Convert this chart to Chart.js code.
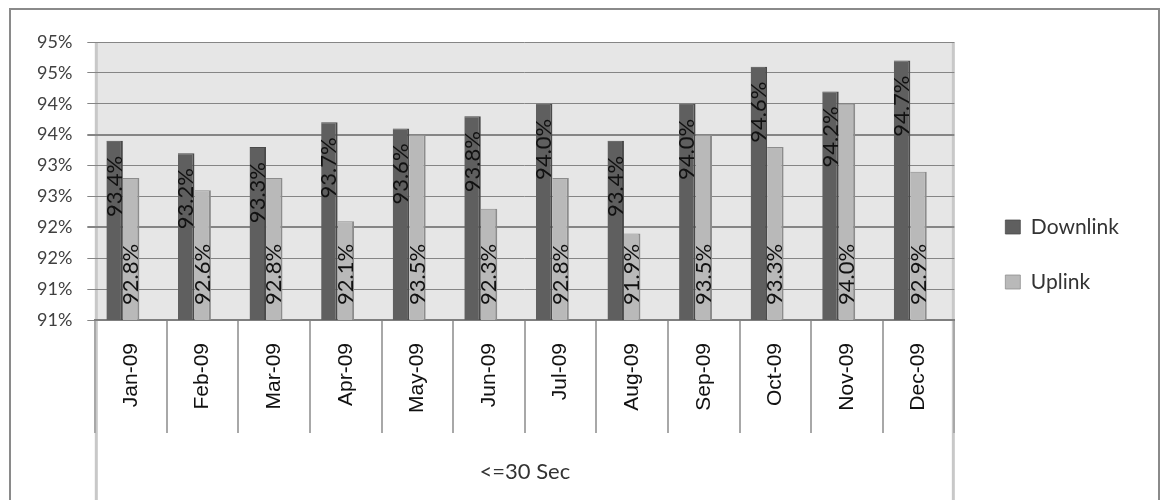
<!DOCTYPE html>
<html>
<head>
<meta charset="utf-8">
<script src="https://cdn.jsdelivr.net/npm/chart.js@4"></script>
<style>
  html, body { margin: 0; padding: 0; background: #fff; overflow: hidden; }
  #wrap { position: absolute; left: 0; top: 0; width: 1162px; height: 500px; }
  #frame { position: absolute; left: 9px; top: 8px; width: 1147px; height: 600px;
           border: 2px solid #8a8a8a; border-bottom: none; pointer-events: none; }
</style>
</head>
<body>
<div id="frame"></div>
<div id="wrap"><canvas id="myChart"></canvas></div>
<script>
// =======================
// Data
// =======================
const months = ['Jan-09', 'Feb-09', 'Mar-09', 'Apr-09', 'May-09', 'Jun-09',
                'Jul-09', 'Aug-09', 'Sep-09', 'Oct-09', 'Nov-09', 'Dec-09'];
const groupLabels = ['<=30 Sec'];
const downlink = [93.4, 93.2, 93.3, 93.7, 93.6, 93.8, 94.0, 93.4, 94.0, 94.6, 94.2, 94.7];
const uplink = [92.8, 92.6, 92.8, 92.1, 93.5, 92.3, 92.8, 91.9, 93.5, 93.3, 94.0, 92.9];
const yMin = 90.5;
const yMax = 95;
const yStep = 0.5;

// =======================
// Style
// =======================
const downColor = '#5f5f5f';
const upColor = '#b9b9b9';
const plotBg = '#e6e6e6';
const gridColor = '#858585';
const labelFont = 'Lato';

// plot background + light wall edges down to the bottom
const plotBackground = {
  id: 'plotBackground',
  beforeDraw(chart) {
    const { ctx, chartArea } = chart;
    ctx.save();
    ctx.fillStyle = plotBg;
    ctx.fillRect(chartArea.left, chartArea.top, chartArea.width, chartArea.height);
    ctx.strokeStyle = '#c8c8c8';
    ctx.lineWidth = 3;
    [chartArea.left + 1, chartArea.right - 1].forEach(x => {
      ctx.beginPath();
      ctx.moveTo(x, chartArea.top);
      ctx.lineTo(x, chart.height);
      ctx.stroke();
    });
    ctx.restore();
  }
};

// rotated value labels: downlink at the top inside, uplink at the base
const barLabels = {
  id: 'barLabels',
  afterDatasetsDraw(chart) {
    const { ctx } = chart;
    const basePx = chart.scales.y.getPixelForValue(yMin);
    ctx.save();
    ctx.font = '22px ' + labelFont;
    ctx.fillStyle = '#111';
    ctx.textBaseline = 'middle';
    [0, 1].forEach(di => {
      const values = chart.data.datasets[di].data;
      chart.getDatasetMeta(di).data.forEach((bar, i) => {
        ctx.save();
        ctx.translate(bar.x, di === 0 ? bar.y + 15 : basePx - 15);
        ctx.rotate(-Math.PI / 2);
        ctx.textAlign = di === 0 ? 'right' : 'left';
        ctx.fillText(values[i].toFixed(1) + '%', 0, 0);
        ctx.restore();
      });
    });
    ctx.restore();
  }
};

// move the legend a little away from the plot
const legendNudge = {
  id: 'legendNudge',
  afterLayout(chart) {
    const lg = chart.legend;
    lg.left += 17; lg.right += 17;
    lg.top -= 9; lg.bottom -= 9;
  }
};

// =======================
// Chart Configuration
// =======================
const ctx = document.getElementById('myChart').getContext('2d');

new Chart(ctx, {
  type: 'bar',
  data: {
    labels: months,
    datasets: [
      {
        label: 'Downlink',
        data: downlink,
        backgroundColor: downColor,
        borderColor: '#4a4a4a',
        borderWidth: { top: 1, right: 2, left: 0, bottom: 0 }
      },
      {
        label: 'Uplink',
        data: uplink,
        backgroundColor: upColor,
        borderColor: '#8c8c8c',
        borderWidth: { top: 1, right: 2, left: 0, bottom: 0 }
      },
      {
        // empty slot so the pair sits left of the category centre, like the original
        label: '',
        data: []
      }
    ]
  },
  options: {
    responsive: true,
    maintainAspectRatio: false,
    animation: false,
    categoryPercentage: 0.69,
    barPercentage: 1,
    layout: {
      padding: { left: 22, right: 50, top: 42, bottom: 15 }
    },
    scales: {
      x: {
        offset: true,
        weight: 0,
        grid: {
          offset: true,
          drawOnChartArea: false,
          drawTicks: true,
          tickLength: 113,
          color: '#a8a8a8',
          lineWidth: 2
        },
        border: { display: true, color: '#7f7f7f', width: 2 },
        ticks: {
          minRotation: 90,
          maxRotation: 90,
          autoSkip: false,
          padding: -90,
          color: '#111',
          font: { family: 'Liberation Sans', size: 21 }
        },
        afterFit: scale => { scale.height = 95; }
      },
      x2: {
        type: 'category',
        labels: groupLabels,
        position: 'bottom',
        weight: 1,
        offset: true,
        grid: { display: false, drawTicks: false },
        border: { display: false },
        ticks: {
          padding: 44,
          color: '#333',
          font: { family: labelFont, size: 22 }
        },
        afterFit: scale => { scale.height = 70; }
      },
      y: {
        min: yMin,
        max: yMax,
        grid: {
          color: gridColor,
          tickLength: 8,
          lineWidth: c => (Math.abs(c.tick.value - 92) < 0.01 || Math.abs(c.tick.value - 93.5) < 0.01) ? 2 : 1
        },
        border: { display: false },
        ticks: {
          stepSize: yStep,
          padding: 15,
          color: '#404040',
          font: { family: labelFont, size: 18 },
          callback: v => Math.round(v) + '%'
        }
      }
    },
    plugins: {
      legend: {
        position: 'right',
        align: 'center',
        labels: {
          boxWidth: 15,
          boxHeight: 14,
          padding: 34,
          color: '#333',
          font: { family: labelFont, size: 21 },
          filter: item => item.datasetIndex < 2
        }
      },
      tooltip: { enabled: false }
    }
  },
  plugins: [plotBackground, barLabels, legendNudge]
});
</script>
</body>
</html>
